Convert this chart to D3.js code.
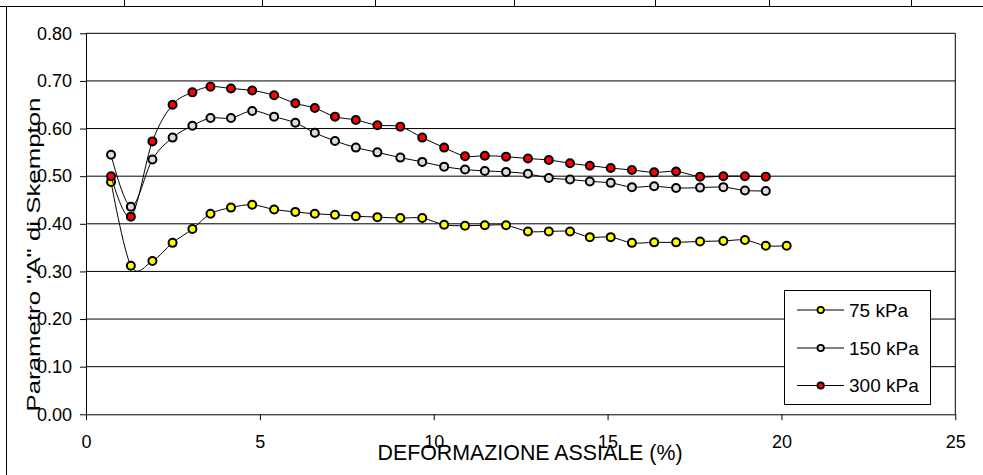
<!DOCTYPE html>
<html>
<head>
<meta charset="utf-8">
<script src="https://cdn.jsdelivr.net/npm/d3@7"></script>
<style>
html,body{margin:0;padding:0;background:#fff;}
svg{display:block;font-family:"Liberation Sans",Arial,sans-serif;}
</style>
</head>
<body>
<svg id="chart" width="983" height="475"></svg>
<script>
// ---- data ----
const strain = [0.72,1.29,1.91,2.49,3.06,3.58,4.17,4.78,5.41,6.02,6.58,7.16,7.76,8.38,9.04,9.67,10.30,10.90,11.47,12.08,12.71,13.31,13.92,14.49,15.09,15.70,16.34,16.97,17.66,18.33,18.95,19.55,20.15];
const a75  = [0.488,0.312,0.322,0.360,0.389,0.421,0.434,0.440,0.430,0.425,0.421,0.419,0.416,0.414,0.412,0.412,0.398,0.396,0.397,0.397,0.384,0.384,0.384,0.372,0.372,0.360,0.361,0.361,0.363,0.364,0.366,0.354,0.354];
const a150 = [0.545,0.436,0.535,0.581,0.606,0.622,0.622,0.637,0.625,0.612,0.591,0.574,0.560,0.550,0.539,0.530,0.520,0.514,0.511,0.509,0.505,0.496,0.493,0.489,0.486,0.477,0.479,0.475,0.476,0.477,0.470,0.469];
const a300 = [0.500,0.415,0.573,0.650,0.676,0.688,0.684,0.680,0.670,0.653,0.643,0.625,0.618,0.607,0.604,0.581,0.560,0.542,0.543,0.541,0.537,0.534,0.527,0.522,0.517,0.513,0.508,0.510,0.499,0.500,0.500,0.499];
const seriesNames = ["75 kPa","150 kPa","300 kPa"];
const seriesColors = ["#ffff00","#dcdcdc","#ff0000"];
const xTicks = [0,5,10,15,20,25];
const yTicks = [0,0.1,0.2,0.3,0.4,0.5,0.6,0.7,0.8];
const xTitle = "DEFORMAZIONE ASSIALE (%)";
const yTitle = 'Parametro "A" di Skempton';

// ---- layout ----
const svg = d3.select("#chart");
const L = 86, R = 955.3, T = 33.3, B = 414.3;
const x = d3.scaleLinear().domain([0,25]).range([L,R]);
const y = d3.scaleLinear().domain([0,0.8]).range([B,T]);

// spreadsheet cell lines / chart frame
svg.append("line").attr("x1",0).attr("x2",983).attr("y1",6.5).attr("y2",6.5).attr("stroke","#000");
svg.append("line").attr("x1",6.5).attr("x2",6.5).attr("y1",6.5).attr("y2",475).attr("stroke","#000");
[124,262,375,514,655,769,911].forEach(cx=>{
  svg.append("line").attr("x1",cx+0.5).attr("x2",cx+0.5).attr("y1",0).attr("y2",6.5).attr("stroke","#000");
});

// gridlines
svg.append("g").selectAll("line").data(yTicks.filter(d=>d>0)).join("line")
  .attr("x1",L).attr("x2",R).attr("y1",d=>y(d)).attr("y2",d=>y(d))
  .attr("stroke","#000").attr("stroke-width",1);
// right border
svg.append("line").attr("x1",R).attr("x2",R).attr("y1",T).attr("y2",B).attr("stroke","#000");

// axes
const yAxis = svg.append("g").attr("transform",`translate(${L},0)`)
  .call(d3.axisLeft(y).tickValues(yTicks).tickFormat(d3.format(".2f")).tickSize(6).tickSizeOuter(0).tickPadding(8));
const xAxis = svg.append("g").attr("transform",`translate(0,${B})`)
  .call(d3.axisBottom(x).tickValues(xTicks).tickFormat(d3.format("d")).tickSize(6).tickSizeOuter(0).tickPadding(15));
[yAxis,xAxis].forEach(g=>{
  g.selectAll("text").attr("font-size",18).attr("fill","#000").attr("font-family","Liberation Sans, Arial, sans-serif");
  g.selectAll("path,line").attr("stroke","#000");
});

// titles
svg.append("text").attr("x",530).attr("y",460).attr("text-anchor","middle")
  .attr("font-size",22).attr("textLength",305).attr("lengthAdjust","spacingAndGlyphs").text(xTitle);
svg.append("text").attr("transform","translate(40,254.5) rotate(-90)").attr("text-anchor","middle")
  .attr("font-size",19).attr("textLength",314).attr("lengthAdjust","spacingAndGlyphs").text(yTitle);

// series
const allSeries = [a75,a150,a300];
const line = d3.line().x(d=>x(d[0])).y(d=>y(d[1])).curve(d3.curveCardinal.tension(0));
allSeries.forEach((vals,i)=>{
  const pts = vals.map((v,j)=>[strain[j],v]);
  const g = svg.append("g");
  g.append("path").attr("d",line(pts)).attr("fill","none").attr("stroke","#000").attr("stroke-width",1);
  g.selectAll("circle").data(pts).join("circle")
    .attr("cx",d=>x(d[0])).attr("cy",d=>y(d[1])).attr("r",4)
    .attr("fill",seriesColors[i]).attr("stroke","#000").attr("stroke-width",2);
});

// legend
const lg = svg.append("g");
lg.append("rect").attr("x",784.5).attr("y",290.5).attr("width",146).attr("height",114)
  .attr("fill","#fff").attr("stroke","#000");
const rowY = [310,348,385.5];
seriesNames.forEach((n,i)=>{
  lg.append("line").attr("x1",797).attr("x2",844).attr("y1",rowY[i]).attr("y2",rowY[i]).attr("stroke","#000");
  lg.append("circle").attr("cx",820.7).attr("cy",rowY[i]).attr("r",3.2)
    .attr("fill",seriesColors[i]).attr("stroke","#000").attr("stroke-width",1.8);
  lg.append("text").attr("x",849).attr("y",rowY[i]+6.5).attr("font-size",19).text(n);
});
</script>
</body>
</html>
